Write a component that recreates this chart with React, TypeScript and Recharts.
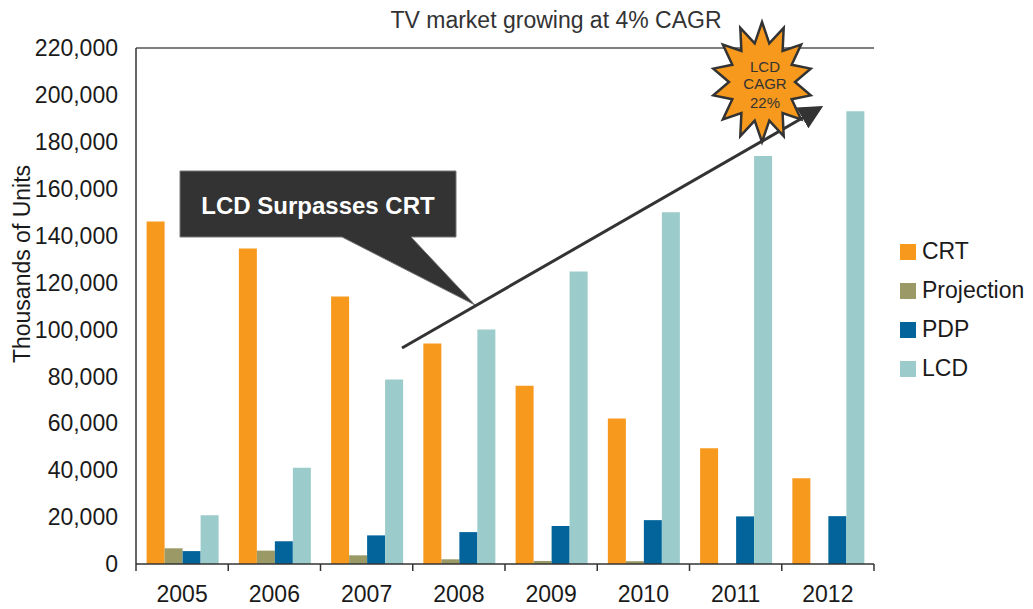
import React from 'react';
import { BarChart, Bar, XAxis, YAxis, Legend, ReferenceLine } from 'recharts';

const years = ['2005', '2006', '2007', '2008', '2009', '2010', '2011', '2012'];
const crtUnits = [146000, 134500, 114000, 94000, 76000, 62000, 49400, 36600];
const projectionUnits = [6700, 5700, 3700, 2000, 1300, 1200, 0, 0];
const pdpUnits = [5500, 9700, 12200, 13600, 16200, 18700, 20300, 20400];
const lcdUnits = [20800, 41000, 78700, 100000, 124700, 150000, 174000, 193000];
const yTicks = [0, 20000, 40000, 60000, 80000, 100000, 120000, 140000, 160000, 180000, 200000, 220000];

const SERIES = [
  { key: 'CRT', color: '#F7991D' },
  { key: 'Projection', color: '#9B9A66' },
  { key: 'PDP', color: '#02649A' },
  { key: 'LCD', color: '#9BCBCB' },
];

const data = years.map((year, i) => ({
  year,
  CRT: crtUnits[i],
  Projection: projectionUnits[i],
  PDP: pdpUnits[i],
  LCD: lcdUnits[i],
}));

const FONT = '"Liberation Sans", Arial, sans-serif';
const W = 1033;
const H = 609;
const MARGIN = { top: 48, right: 159, bottom: 0, left: 0 };
const Y_AXIS_W = 136;
const X_TICK_MARGIN = 22;
// width of one year band on the category axis
const BAND = (W - MARGIN.left - MARGIN.right - Y_AXIS_W) / years.length;

// starburst outline for the CAGR badge
const starPoints = (cx: number, cy: number, rx: number, ry: number, spikes: number) => {
  const pts: string[] = [];
  for (let i = 0; i < spikes * 2; i++) {
    const a = (Math.PI * i) / spikes - Math.PI / 2;
    const r = i % 2 === 0 ? 1 : 0.66;
    pts.push(`${(cx + Math.cos(a) * rx * r).toFixed(1)},${(cy + Math.sin(a) * ry * r).toFixed(1)}`);
  }
  return pts.join(' ');
};

// year label plus tick marks on the band boundaries
const YearTick = (props: any) => {
  const { x, y, payload, index } = props;
  const axisY = y - X_TICK_MARGIN;
  const left = x - BAND / 2;
  return (
    <g>
      <line x1={left} y1={axisY} x2={left} y2={axisY + 7} stroke="#333" strokeWidth={1.5} />
      {index === years.length - 1 && (
        <line x1={left + BAND} y1={axisY} x2={left + BAND} y2={axisY + 7} stroke="#333" strokeWidth={1.5} />
      )}
      <text
        x={x}
        y={y}
        dy="0.71em"
        textAnchor="middle"
        style={{ fontFamily: FONT, fontSize: 23, fill: '#1a1a1a' }}
      >
        {payload.value}
      </text>
    </g>
  );
};

const renderLegend = () => (
  <div style={{ fontFamily: FONT, fontSize: 23, color: '#1a1a1a' }}>
    {SERIES.map((s) => (
      <div key={s.key} style={{ display: 'flex', alignItems: 'center', height: 39 }}>
        <span style={{ width: 16, height: 16, background: s.color, display: 'inline-block', marginRight: 6 }} />
        <span>{s.key}</span>
      </div>
    ))}
  </div>
);

const YLabel = (props: any) => {
  const vb = props.viewBox;
  const x = vb.x + 22;
  const y = vb.y + vb.height / 2 - 42;
  return (
    <text
      x={x}
      y={y}
      transform={`rotate(-90, ${x}, ${y})`}
      textAnchor="middle"
      dominantBaseline="central"
      style={{ fontFamily: FONT, fontSize: 23, fill: '#1a1a1a' }}
    >
      Thousands of Units
    </text>
  );
};

const App: React.FC = () => {
  return (
    <div style={{ position: 'absolute', left: 0, top: 0, width: W, height: H, background: '#fff' }}>
      <BarChart
        width={W}
        height={H}
        data={data}
        margin={MARGIN}
        barCategoryGap="11.5%"
        barGap={0}
      >
        <XAxis
          dataKey="year"
          height={45}
          interval={0}
          axisLine={{ stroke: '#333', strokeWidth: 1.5 }}
          tickLine={false}
          tickSize={0}
          tickMargin={X_TICK_MARGIN}
          tick={<YearTick />}
        />
        <YAxis
          width={Y_AXIS_W}
          domain={[0, 220000]}
          ticks={yTicks}
          interval={0}
          axisLine={{ stroke: '#333', strokeWidth: 1.5 }}
          tickLine={false}
          tickSize={0}
          tickMargin={18}
          tick={{ fontFamily: FONT, fontSize: 23, fill: '#1a1a1a' }}
          tickFormatter={(v: number) => v.toLocaleString('en-US')}
          label={{ content: YLabel }}
        />
        <YAxis
          yAxisId="frame"
          orientation="right"
          width={0}
          domain={[0, 1]}
          tick={false}
          tickLine={false}
          axisLine={{ stroke: '#555', strokeWidth: 1.5 }}
        />
        <ReferenceLine y={220000} stroke="#555" strokeWidth={1.5} />
        {SERIES.map((s) => (
          <Bar key={s.key} dataKey={s.key} fill={s.color} isAnimationActive={false} />
        ))}
        <Legend
          layout="vertical"
          align="center"
          verticalAlign="middle"
          content={renderLegend}
          wrapperStyle={{ left: 900, top: 232, width: 133 }}
        />
      </BarChart>

      <svg
        width={W}
        height={H}
        style={{ position: 'absolute', left: 0, top: 0, pointerEvents: 'none' }}
      >
        <defs>
          <marker id="arrowHead" markerWidth="8" markerHeight="8" refX="6" refY="4" orient="auto" markerUnits="strokeWidth">
            <path d="M0,0 L8,4 L0,8 Z" fill="#333" />
          </marker>
        </defs>
        <text
          x={556}
          y={28}
          textAnchor="middle"
          style={{ fontFamily: FONT, fontSize: 23, fill: '#333' }}
        >
          TV market growing at 4% CAGR
        </text>

        {/* callout */}
        <path
          d="M180,171 L456,171 L456,237 L411,237 L475,305 L342,237 L180,237 Z"
          fill="#333"
          stroke="#777"
          strokeWidth={1}
        />
        <text
          x={318}
          y={205}
          textAnchor="middle"
          dominantBaseline="central"
          style={{ fontFamily: FONT, fontSize: 24, fontWeight: 700, fill: '#fff' }}
        >
          LCD Surpasses CRT
        </text>

        {/* trend arrow */}
        <line x1={402} y1={348} x2={818} y2={109} stroke="#333" strokeWidth={3} markerEnd="url(#arrowHead)" />

        {/* starburst */}
        <polygon points={starPoints(762, 82, 50, 60, 14)} fill="#F7991D" stroke="#333" strokeWidth={2.5} strokeLinejoin="miter" />
        <g style={{ fontFamily: FONT, fontSize: 15, fill: '#333' }} textAnchor="middle">
          <text x={765} y={72}>LCD</text>
          <text x={765} y={89}>CAGR</text>
          <text x={765} y={108}>22%</text>
        </g>
      </svg>
    </div>
  );
};

export default App;
